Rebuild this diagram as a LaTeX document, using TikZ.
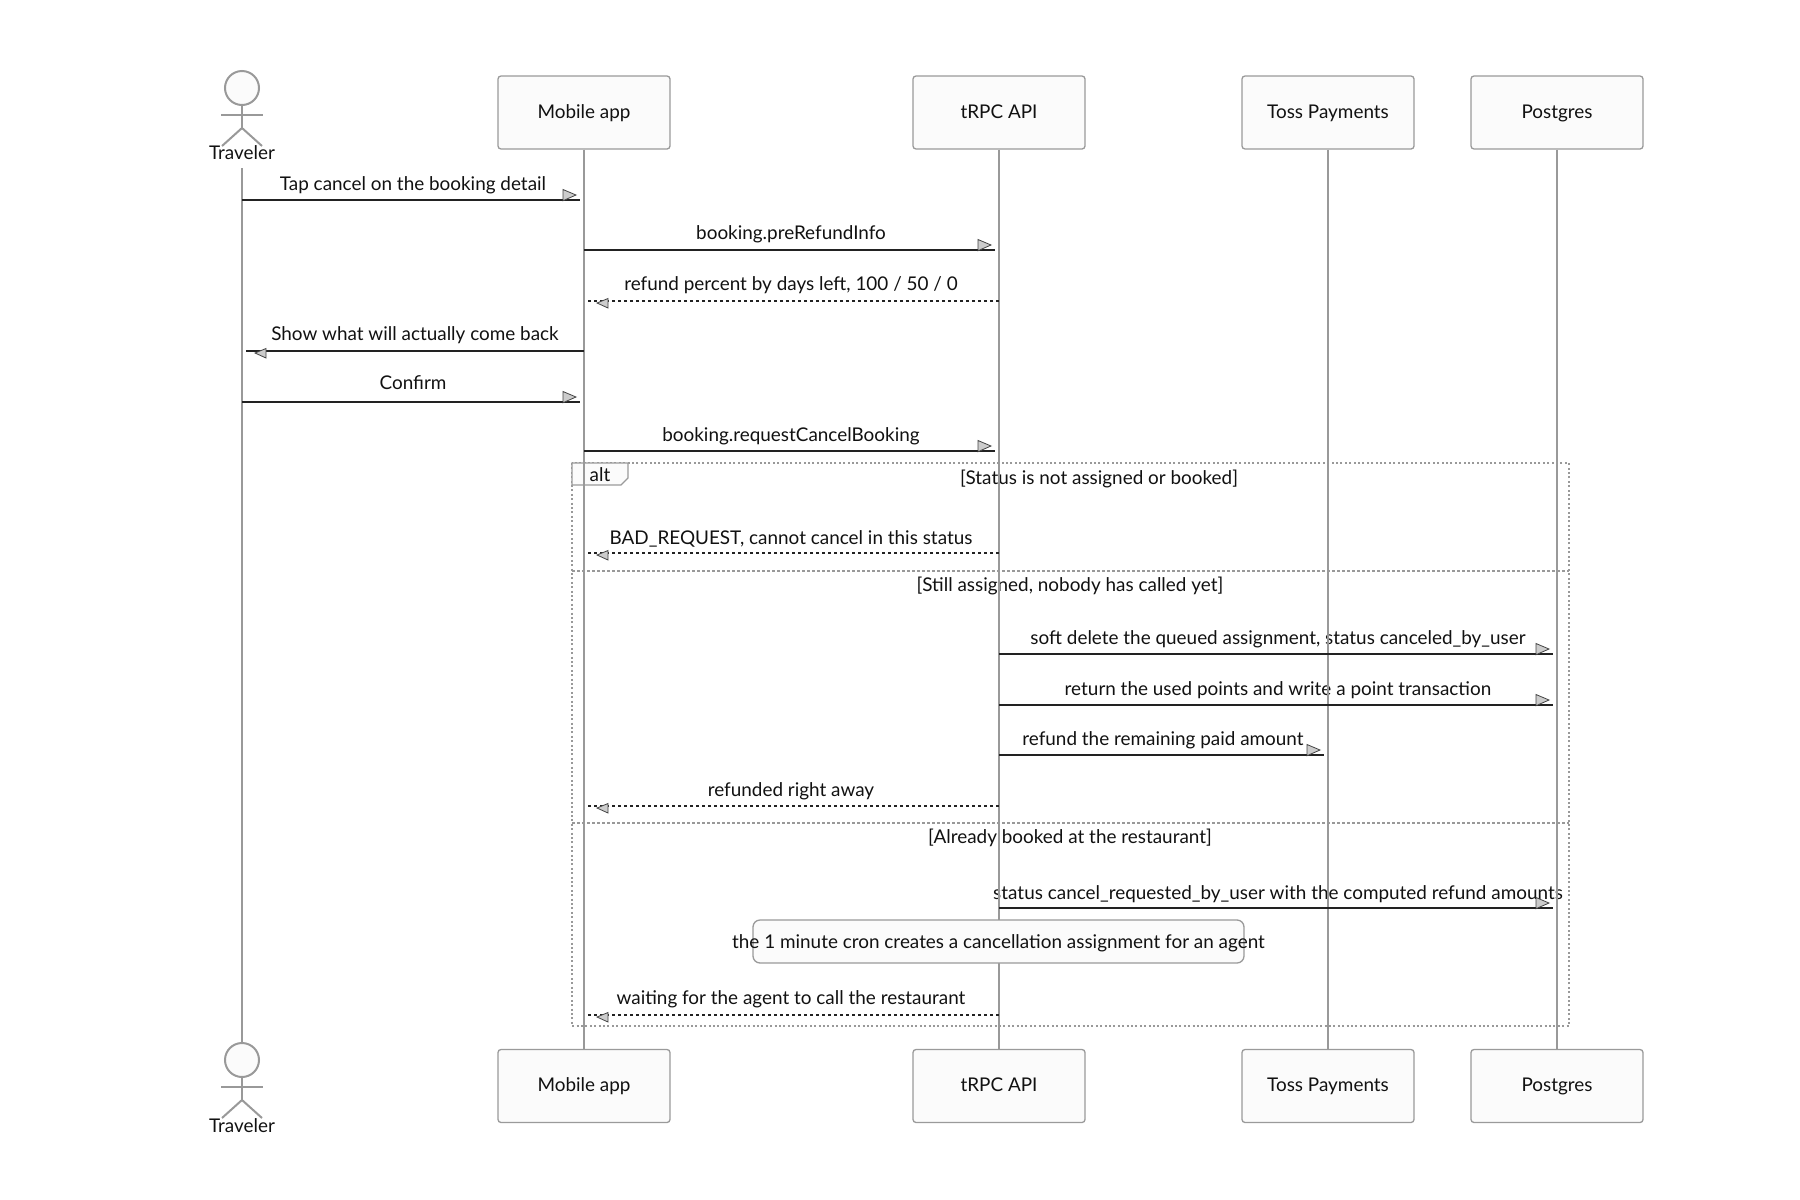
\documentclass[tikz,border=0pt]{standalone}
\usepackage{fontspec}
\setmainfont{Lato}
\begin{document}
\begin{tikzpicture}[x=1pt,y=-1pt,
  every node/.style={font=\fontsize{18.9}{22}\selectfont, text=txt, inner sep=0pt, text height=1.3em, text depth=0.2em},
  partbox/.style={draw=edge, fill=boxfill, line width=1.3pt, rounded corners=3pt, minimum width=172pt, minimum height=73pt},
  lifeline/.style={draw=life, line width=2pt},
  actorline/.style={draw=life, line width=2pt},
  msgline/.style={draw=msgc, line width=2pt},
  retline/.style={draw=msgc, line width=2pt, dash pattern=on 3pt off 3pt},
  altframe/.style={draw=life, line width=2pt, dash pattern=on 2pt off 2.4pt},
  altdiv/.style={draw=life, line width=2pt, dash pattern=on 3pt off 2pt},
  notebox/.style={draw=edge, fill=boxfill, line width=1.3pt, rounded corners=7pt},
  rtip/.pic={\filldraw[fill=tipfill, draw=tipedge, line width=0.8pt] (-4,-5) -- (-17,-10.5) -- (-17,0.7) -- cycle;},
  ltip/.pic={\filldraw[fill=tipfill, draw=tipedge, line width=0.8pt] (9,2) -- (20,-2.5) -- (20,7) -- cycle;}
]
\definecolor{txt}{HTML}{111111}
\definecolor{edge}{HTML}{9A9A9A}
\definecolor{boxfill}{HTML}{FBFBFB}
\definecolor{life}{HTML}{999999}
\definecolor{msgc}{HTML}{222222}
\definecolor{tipfill}{HTML}{CCCCCC}
\definecolor{tipedge}{HTML}{444444}
\useasboundingbox (0,0) rectangle (1800,1200);

% alt frame
\draw[altframe] (572,463) rectangle (1569,1026);
\draw[altdiv] (572,571) -- (1569,571);
\draw[altdiv] (572,823) -- (1569,823);
\filldraw[fill=boxfill, draw=edge, line width=1.3pt] (572,463) -- (628,463) -- (628,478) -- (621,485) -- (572,485) -- cycle;
\node (alt) at (600,476) {alt};
\node (g1) at (1099,479) {[Status is not assigned or booked]};
\node (g2) at (1070,586) {[Still assigned, nobody has called yet]};
\node (g3) at (1070,838) {[Already booked at the restaurant]};

% message labels
\node (t1) at (413,185) {Tap cancel on the booking detail};
\node (t2) at (791,234) {booking.preRefundInfo};
\node (t3) at (791,285) {refund percent by days left, 100 / 50 / 0};
\node (t4) at (415,335) {Show what will actually come back};
\node (t5) at (413,384) {Confirm};
\node (t6) at (791,436) {booking.requestCancelBooking};
\node (t7) at (791,539) {BAD\_REQUEST, cannot cancel in this status};
\node (t8) at (1278,639) {soft delete the queued assignment, status canceled\_by\_user};
\node (t9) at (1278,690) {return the used points and write a point transaction};
\node (t10) at (1163,740) {refund the remaining paid amount};
\node (t11) at (791,791) {refunded right away};
\node (t12) at (1278,894) {status cancel\_requested\_by\_user with the computed refund amounts};
\node (t13) at (791,999) {waiting for the agent to call the restaurant};

% participants
\node[partbox] (app) at (584,112.5) {Mobile app};
\node[partbox] (api) at (999,112.5) {tRPC API};
\node[partbox] (toss) at (1328,112.5) {Toss Payments};
\node[partbox] (pg) at (1557,112.5) {Postgres};
\node[partbox] (appB) at (584,1086) {Mobile app};
\node[partbox] (apiB) at (999,1086) {tRPC API};
\node[partbox] (tossB) at (1328,1086) {Toss Payments};
\node[partbox] (pgB) at (1557,1086) {Postgres};

% lifelines
\draw[lifeline] (app.south) -- (appB.north);
\draw[lifeline] (api.south) -- (apiB.north);
\draw[lifeline] (toss.south) -- (tossB.north);
\draw[lifeline] (pg.south) -- (pgB.north);

% actors
\foreach \n/\hy in {trav/88, travB/1060}{
  \draw[actorline, fill=boxfill] (242,\hy) circle (17);
  \draw[actorline] (242,\hy+17) -- (242,\hy+40);
  \draw[actorline] (221,\hy+27) -- (263,\hy+27);
  \draw[actorline] (222,\hy+58) -- (242,\hy+40) -- (262,\hy+58);
}
\node (trav) at (242,154) {Traveler};
\node (travB) at (242,1127) {Traveler};
\coordinate (travTop) at (242,168);
\coordinate (travBot) at (242,1043);
\draw[lifeline] (travTop) -- (travBot);

% note
\node[notebox, minimum width=491pt, minimum height=43pt, text height=0pt, text depth=0pt] (note) at (998.5,941.5) {};
\node (notetxt) at (998.5,943) {the 1 minute cron creates a cancellation assignment for an agent};

% message endpoints
\coordinate (m1a) at (242,200);  \coordinate (m1b) at (580,200);
\coordinate (m2a) at (584,250);  \coordinate (m2b) at (995,250);
\coordinate (m3a) at (999,301);  \coordinate (m3b) at (588,301);
\coordinate (m4a) at (584,351);  \coordinate (m4b) at (246,351);
\coordinate (m5a) at (242,402);  \coordinate (m5b) at (580,402);
\coordinate (m6a) at (584,451);  \coordinate (m6b) at (995,451);
\coordinate (m7a) at (999,553);  \coordinate (m7b) at (588,553);
\coordinate (m8a) at (999,654);  \coordinate (m8b) at (1553,654);
\coordinate (m9a) at (999,705);  \coordinate (m9b) at (1553,705);
\coordinate (m10a) at (999,755); \coordinate (m10b) at (1324,755);
\coordinate (m11a) at (999,806); \coordinate (m11b) at (588,806);
\coordinate (m12a) at (999,908); \coordinate (m12b) at (1553,908);
\coordinate (m13a) at (999,1015); \coordinate (m13b) at (588,1015);

\draw[msgline] (m1a) -- (m1b);  \pic at (m1b) {rtip};
\draw[msgline] (m2a) -- (m2b);  \pic at (m2b) {rtip};
\draw[retline] (m3a) -- (m3b);  \pic at (m3b) {ltip};
\draw[msgline] (m4a) -- (m4b);  \pic at (m4b) {ltip};
\draw[msgline] (m5a) -- (m5b);  \pic at (m5b) {rtip};
\draw[msgline] (m6a) -- (m6b);  \pic at (m6b) {rtip};
\draw[retline] (m7a) -- (m7b);  \pic at (m7b) {ltip};
\draw[msgline] (m8a) -- (m8b);  \pic at (m8b) {rtip};
\draw[msgline] (m9a) -- (m9b);  \pic at (m9b) {rtip};
\draw[msgline] (m10a) -- (m10b); \pic at (m10b) {rtip};
\draw[retline] (m11a) -- (m11b); \pic at (m11b) {ltip};
\draw[msgline] (m12a) -- (m12b); \pic at (m12b) {rtip};
\draw[retline] (m13a) -- (m13b); \pic at (m13b) {ltip};
\end{tikzpicture}
\end{document}
